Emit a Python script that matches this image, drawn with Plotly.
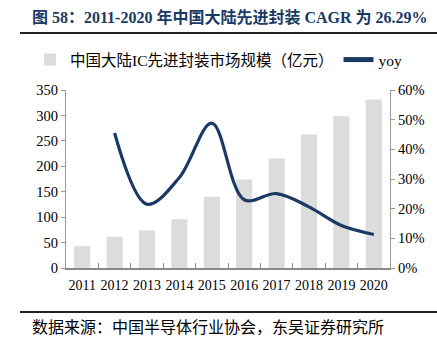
import plotly.graph_objects as go

years = ["2011", "2012", "2013", "2014", "2015", "2016", "2017", "2018", "2019", "2020"]
market_size = [43, 61.5, 74, 96, 140, 174, 215.5, 262.5, 298.5, 331.5]
yoy_years = ["2012", "2013", "2014", "2015", "2016", "2017", "2018", "2019", "2020"]
yoy = [45.5, 21.5, 30.5, 48.8, 23.0, 25.1, 20.6, 14.3, 11.3]

title_text = "<b>图 58：2011-2020 年中国大陆先进封装 CAGR 为 26.29%</b>"
source_text = "数据来源：中国半导体行业协会，东吴证券研究所"
bar_name = "中国大陆IC先进封装市场规模（亿元）"
line_name = "yoy"

W, H = 437, 350
ML, MR, MT, MB = 66, 47, 90, 82
PH = H - MT - MB
PW = W - ML - MR

def py(p):
    return (H - MB - p) / PH

def px(p):
    return (p - ML) / PW

FONT = "Liberation Serif, Noto Sans CJK SC, serif"
NAVY = "#1b3a63"

fig = go.Figure()
fig.add_trace(go.Bar(x=years, y=market_size, name=bar_name,
                     marker=dict(color="#dcdcdc", line=dict(width=0)),
                     width=0.5))
fig.add_trace(go.Scatter(x=yoy_years, y=yoy, name=line_name, yaxis="y2",
                         mode="lines", line=dict(color=NAVY, width=3.2, shape="spline", smoothing=1.0)))

fig.update_layout(
    width=W, height=H,
    margin=dict(l=ML, r=MR, t=MT, b=MB),
    paper_bgcolor="white", plot_bgcolor="white",
    font=dict(family=FONT, size=14, color="#000"),
    showlegend=True,
    legend=dict(orientation="h", x=px(30), y=py(60), xanchor="left", yanchor="middle",
                font=dict(size=15.5, family=FONT), bgcolor="rgba(0,0,0,0)",
                itemsizing="constant", tracegroupgap=0),
    xaxis=dict(type="category", showline=True, linecolor="#888", linewidth=1.5,
               ticks="inside", tickson="boundaries", ticklen=5, tickcolor="#888",
               tickangle=0, tickfont=dict(size=14), ticklabelstandoff=3, showgrid=False),
    yaxis=dict(range=[0, 350], dtick=50, showline=True, linecolor="#999", linewidth=1,
               ticks="outside", ticklen=4, tickcolor="#999", showgrid=False,
               zeroline=False, tickfont=dict(size=14.5)),
    yaxis2=dict(range=[0, 60], dtick=10, overlaying="y", side="right", ticksuffix="%",
                showline=True, linecolor="#999", linewidth=1, ticks="outside", ticklen=4,
                tickcolor="#999", showgrid=False, zeroline=False, tickfont=dict(size=14.5)),
    bargap=0.5,
)

shapes = [
    dict(type="line", xref="paper", yref="paper", x0=px(20), x1=px(437), y0=py(33), y1=py(33),
         line=dict(color="#222", width=2)),
    dict(type="line", xref="paper", yref="paper", x0=px(20), x1=px(437), y0=py(312), y1=py(312),
         line=dict(color="#222", width=2)),
]
fig.update_layout(shapes=shapes)

fig.add_annotation(text=title_text, xref="paper", yref="paper", x=px(30), y=py(17),
                   xanchor="left", yanchor="middle", showarrow=False,
                   font=dict(size=16, color=NAVY, family=FONT))
fig.add_annotation(text=source_text, xref="paper", yref="paper", x=px(30), y=py(327),
                   xanchor="left", yanchor="middle", showarrow=False,
                   font=dict(size=16, color="#000", family=FONT))

fig.write_html("out.html")
